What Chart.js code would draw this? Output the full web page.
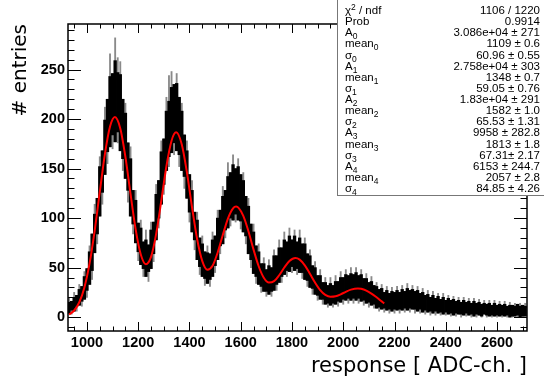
<!DOCTYPE html>
<html>
<head>
<meta charset="utf-8">
<script src="https://cdn.jsdelivr.net/npm/chart.js@4.4.1/dist/chart.umd.min.js"></script>
<style>
  html, body { margin: 0; padding: 0; background: #fff; }
  #wrap { position: relative; width: 544px; height: 382px; overflow: hidden; }
  #stats {
    position: absolute; left: 337px; top: -1px; width: 210px; height: 197px;
    box-sizing: border-box; border: 1px solid #777; background: #fff;
    padding: 5px 6px 0 7px;
    font-family: "Liberation Sans", Arial, sans-serif; font-size: 11.5px; color: #000;
  }
  .row { display: flex; justify-content: space-between; height: 11.125px; line-height: 11.125px; white-space: nowrap; }
  .row sub { font-size: 8.5px; vertical-align: -3px; line-height: 0; }
  .row sup { font-size: 8.5px; vertical-align: 4px; line-height: 0; }
</style>
</head>
<body>
<div id="wrap">
  <canvas id="chart" width="544" height="382"></canvas>
  <div id="stats"></div>
</div>
<script>
// histogram, grouped in 10 ADC-ch. bins starting at 930
const binStart = 930;
const binWidth = 10;

// dark part of the error band (low / high edge per bin)
const coreLow = [
  4, 7, 6, 11, 12, 16, 18, 27, 33, 47,
  65, 84, 102, 126, 144, 167, 172, 184, 177, 187,
  168, 160, 140, 128, 102, 94, 75, 66, 53, 49,
  41, 46, 49, 64, 78, 100, 114, 134, 148, 162,
  166, 176, 168, 164, 148, 142, 120, 106, 86, 78,
  58, 51, 41, 39, 34, 38, 41, 52, 58, 72,
  74, 88, 90, 100, 98, 104, 98, 97, 86, 82,
  64, 58, 44, 41, 33, 31, 26, 26, 23, 26,
  27, 33, 35, 41, 43, 47, 46, 51, 47, 49,
  45, 45, 38, 37, 30, 29, 23, 22, 18, 18,
  13, 14, 12, 14, 13, 16, 15, 18, 17, 19,
  17, 19, 17, 19, 16, 17, 14, 15, 12, 13,
  9, 10, 8, 9, 7, 8, 6, 8, 7, 8,
  7, 9, 7, 9, 8, 8, 6, 8, 5, 7,
  5, 6, 4, 6, 4, 5, 3, 5, 3, 4,
  2, 4, 3, 3, 2, 4, 2, 3, 1, 3,
  2, 1, 3, 2, 1, 2, 1, 2, 1, 2,
  1, 2, 0, 1, 1, 2, 0, 1, 1
];
const coreHigh = [
  15, 16, 20, 22, 28, 31, 41, 49, 66, 84,
  104, 120, 152, 168, 199, 220, 243, 246, 259, 247,
  245, 220, 206, 176, 160, 128, 118, 95, 90, 76,
  78, 73, 88, 96, 124, 138, 167, 180, 208, 218,
  232, 235, 236, 222, 208, 184, 168, 144, 128, 106,
  98, 80, 74, 66, 65, 64, 78, 82, 100, 108,
  122, 128, 142, 146, 154, 150, 152, 144, 138, 122,
  112, 94, 86, 72, 66, 54, 54, 48, 52, 50,
  62, 62, 70, 70, 78, 76, 82, 78, 82, 76,
  80, 74, 74, 64, 62, 52, 50, 42, 42, 35,
  35, 32, 34, 32, 36, 36, 40, 40, 43, 42,
  44, 43, 45, 42, 43, 39, 39, 35, 36, 32,
  31, 28, 29, 25, 27, 24, 26, 25, 27, 25,
  28, 26, 29, 27, 28, 26, 27, 24, 25, 22,
  23, 20, 22, 19, 21, 18, 20, 17, 19, 17,
  18, 16, 17, 15, 17, 15, 16, 14, 16, 14,
  15, 13, 14, 13, 14, 12, 14, 12, 13, 12,
  13, 11, 12, 12, 11, 13, 11, 12, 11
];
// faint outer error bar ends (single spikes)
const spikeLow = [
  4, 3, 6, 6, 12, 11, 18, 20, 33, 38,
  65, 74, 102, 114, 144, 155, 172, 170, 177, 176,
  168, 148, 140, 116, 102, 84, 75, 57, 53, 41,
  41, 36, 49, 56, 78, 90, 114, 124, 148, 152,
  166, 164, 168, 152, 148, 130, 120, 96, 86, 68,
  58, 43, 41, 32, 34, 31, 41, 45, 58, 64,
  74, 80, 90, 92, 98, 96, 98, 89, 86, 74,
  64, 50, 44, 34, 33, 25, 26, 21, 23, 21,
  27, 27, 35, 35, 43, 41, 46, 45, 47, 43,
  45, 39, 38, 31, 30, 23, 23, 17, 18, 13,
  13, 10, 12, 10, 13, 11, 15, 13, 17, 14,
  17, 14, 17, 14, 16, 12, 14, 10, 12, 9,
  9, 6, 8, 5, 7, 4, 6, 4, 7, 4,
  7, 5, 7, 5, 8, 4, 6, 4, 5, 3,
  5, 2, 4, 2, 4, 2, 3, 2, 3, 1,
  2, 1, 3, 0, 2, 1, 2, 0, 1, 0,
  2, 0, 3, 0, 1, 0, 1, 0, 1, 0,
  1, 0, 0, 0, 1, 0, 0, 0, 1
];
const spikeHigh = [
  19, 16, 25, 22, 33, 31, 46, 49, 72, 84,
  114, 120, 162, 168, 212, 220, 266, 246, 282, 262,
  258, 220, 216, 176, 172, 128, 128, 95, 98, 76,
  88, 73, 96, 96, 134, 138, 178, 180, 222, 244,
  248, 235, 246, 222, 216, 184, 178, 144, 138, 106,
  106, 80, 82, 66, 72, 64, 86, 82, 108, 108,
  132, 128, 156, 146, 164, 150, 160, 144, 146, 122,
  120, 94, 94, 72, 74, 54, 60, 48, 58, 50,
  68, 62, 78, 70, 86, 76, 90, 78, 88, 76,
  88, 74, 80, 64, 68, 52, 56, 42, 48, 35,
  40, 32, 40, 32, 42, 36, 46, 40, 48, 42,
  50, 43, 50, 42, 48, 39, 44, 35, 41, 32,
  35, 28, 33, 25, 31, 24, 30, 25, 31, 25,
  32, 26, 34, 27, 32, 26, 31, 24, 29, 22,
  27, 20, 26, 19, 24, 18, 24, 17, 22, 17,
  21, 16, 20, 15, 20, 15, 19, 14, 19, 14,
  18, 13, 17, 13, 17, 12, 17, 12, 16, 12,
  16, 11, 15, 12, 14, 13, 14, 12, 14
];

// fitted curve (sum of 5 gaussians), sampled
const fitX = [930, 950, 970, 990, 1010, 1030, 1050, 1070, 1090, 1109,
  1130, 1150, 1170, 1190, 1210, 1230, 1250, 1270, 1290, 1310, 1330, 1348,
  1370, 1390, 1410, 1430, 1450, 1470, 1490, 1510, 1530, 1550, 1570, 1582,
  1610, 1630, 1650, 1670, 1690, 1710, 1730, 1750, 1770, 1790, 1813,
  1830, 1850, 1870, 1890, 1910, 1930, 1950, 1970, 1990, 2010, 2030, 2057,
  2070, 2090, 2110, 2130, 2150, 2160];
const fitY = [2.7, 6.7, 15.0, 30.0, 54.0, 87.2, 126.4, 164.6, 192.4, 202.0,
  190.5, 161.8, 124.4, 88.7, 63.3, 53.5, 60.9, 84.1, 117.5, 152.4, 178.2, 186.6,
  174.4, 146.2, 110.9, 78.6, 56.6, 47.9, 51.9, 65.3, 82.9, 99.5, 109.8, 111.6,
  102.3, 86.7, 68.2, 51.4, 39.8, 34.9, 36.3, 42.3, 50.1, 56.6, 59.7,
  58.1, 52.3, 43.8, 34.9, 27.3, 22.5, 20.5, 21.0, 23.0, 25.6, 27.8, 29.0,
  28.6, 26.8, 23.8, 20.0, 15.9, 13.9];

const xTicks = [1000, 1200, 1400, 1600, 1800, 2000, 2200, 2400, 2600];
const yTicks = [0, 50, 100, 150, 200, 250];
const xMajorStep = 200, xMinorStep = 50;
const yMajorStep = 50, yMinorStep = 10;

// fit statistics box
const statNames = ['&chi;<sup>2</sup> / ndf', 'Prob',
  'A<sub>0</sub>', 'mean<sub>0</sub>', '&sigma;<sub>0</sub>',
  'A<sub>1</sub>', 'mean<sub>1</sub>', '&sigma;<sub>1</sub>',
  'A<sub>2</sub>', 'mean<sub>2</sub>', '&sigma;<sub>2</sub>',
  'A<sub>3</sub>', 'mean<sub>3</sub>', '&sigma;<sub>3</sub>',
  'A<sub>4</sub>', 'mean<sub>4</sub>', '&sigma;<sub>4</sub>'];
const statValues = ['1106 / 1220', '0.9914',
  '3.086e+04 &plusmn; 271', '1109 &plusmn; 0.6', '60.96 &plusmn; 0.55',
  '2.758e+04 &plusmn; 303', '1348 &plusmn; 0.7', '59.05 &plusmn; 0.76',
  '1.83e+04 &plusmn; 291', '1582 &plusmn; 1.0', '65.53 &plusmn; 1.31',
  '9958 &plusmn; 282.8', '1813 &plusmn; 1.8', '67.31&plusmn; 2.17',
  '6153 &plusmn; 244.7', '2057 &plusmn; 2.8', '84.85 &plusmn; 4.26'];

document.getElementById('stats').innerHTML = statNames.map((n, i) =>
  `<div class="row"><span>${n}</span><span>${statValues[i]}</span></div>`).join('');

const binX = coreLow.map((_, i) => binStart + i * binWidth);

// frame + ROOT-like inward ticks on all four sides
const frameTicks = {
  id: 'frameTicks',
  afterDatasetsDraw(chart) {
    const { ctx, chartArea: a, scales: { x, y } } = chart;
    ctx.save();
    ctx.strokeStyle = '#000';
    ctx.lineWidth = 1;
    ctx.beginPath();
    for (let v = Math.ceil(x.min / xMinorStep) * xMinorStep; v <= x.max; v += xMinorStep) {
      const px = Math.round(x.getPixelForValue(v)) + 0.5;
      const len = v % xMajorStep === 0 ? 9 : 4.5;
      ctx.moveTo(px, a.bottom); ctx.lineTo(px, a.bottom - len);
      ctx.moveTo(px, a.top); ctx.lineTo(px, a.top + len);
    }
    for (let v = Math.ceil(y.min / yMinorStep) * yMinorStep; v <= y.max; v += yMinorStep) {
      const py = Math.round(y.getPixelForValue(v)) + 0.5;
      const len = v % yMajorStep === 0 ? 13 : 6.5;
      ctx.moveTo(a.left, py); ctx.lineTo(a.left + len, py);
      ctx.moveTo(a.right, py); ctx.lineTo(a.right - len, py);
    }
    ctx.stroke();
    ctx.lineWidth = 1.5;
    ctx.strokeRect(a.left, a.top, a.right - a.left, a.bottom - a.top);
    ctx.restore();
  }
};

const ctx = document.getElementById('chart').getContext('2d');
new Chart(ctx, {
  type: 'bar',
  data: {
    datasets: [
      {
        type: 'line',
        data: fitX.map((x, i) => ({ x: x, y: fitY[i] })),
        borderColor: '#ff0000',
        borderWidth: 2,
        pointRadius: 0,
        cubicInterpolationMode: 'monotone',
        order: 0
      },
      {
        data: binX.map((x, i) => ({ x: x, y: [coreLow[i], coreHigh[i]] })),
        backgroundColor: '#000',
        barThickness: 2.7,
        grouped: false,
        order: 1
      },
      {
        data: binX.map((x, i) => ({ x: x, y: [spikeLow[i], spikeHigh[i]] })),
        backgroundColor: '#8a8a8a',
        barThickness: 1.2,
        grouped: false,
        order: 2
      }
    ]
  },
  options: {
    responsive: false,
    animation: false,
    layout: { padding: { top: 24, right: 17, left: 0, bottom: 0 } },
    plugins: { legend: { display: false }, tooltip: { enabled: false } },
    scales: {
      x: {
        type: 'linear',
        min: 926,
        max: 2717,
        offset: false,
        grid: { display: false, drawTicks: false },
        border: { display: false },
        afterBuildTicks: s => { s.ticks = xTicks.map(v => ({ value: v })); },
        afterFit: s => { s.height = 51; },
        ticks: {
          padding: 3, color: '#000', autoSkip: false, maxRotation: 0,
          font: { family: 'Liberation Sans', size: 14.5, weight: 'bold' },
          callback: v => String(v)
        },
        title: {
          display: true, text: 'response [ ADC-ch. ]', align: 'end', color: '#000',
          font: { family: 'DejaVu Sans', size: 21 }, padding: { top: 0, bottom: 3 }
        }
      },
      y: {
        min: -14,
        max: 296,
        grid: { display: false, drawTicks: false },
        border: { display: false },
        afterBuildTicks: s => { s.ticks = yTicks.map(v => ({ value: v })); },
        afterFit: s => { s.width = 68; },
        ticks: {
          padding: 3, color: '#000',
          font: { family: 'Liberation Sans', size: 14.5, weight: 'bold' },
          callback: v => String(v)
        },
        title: {
          display: true, text: '# entries', align: 'end', color: '#000',
          font: { family: 'DejaVu Sans', size: 20 }, padding: { top: 9, bottom: 0 }
        }
      }
    }
  },
  plugins: [frameTicks]
});
</script>
</body>
</html>
